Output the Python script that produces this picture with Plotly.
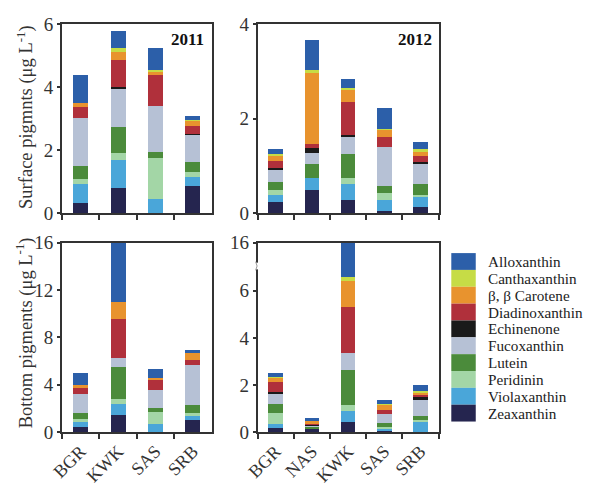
import plotly.graph_objects as go

pigments = ["Zeaxanthin", "Violaxanthin", "Peridinin", "Lutein", "Fucoxanthin",
            "Echinenone", "Diadinoxanthin", "β, β Carotene", "Canthaxanthin", "Alloxanthin"]
colors = ["#25254f", "#4aa6d9", "#a3d6a6", "#4b8b3b", "#b6c1d5",
          "#1a1a1a", "#b0303b", "#e8932e", "#c6dc46", "#2c5fa9"]

sites_2011 = ["BGR", "KWK", "SAS", "SRB"]
sites_2012 = ["BGR", "NAS", "KWK", "SAS", "SRB"]

# values per pigment (order = pigments), per site
surf_2011 = {
    "BGR": [0.30, 0.62, 0.16, 0.42, 1.53, 0.00, 0.33, 0.13, 0.02, 0.87],
    "KWK": [0.79, 0.90, 0.23, 0.81, 1.21, 0.06, 0.86, 0.25, 0.15, 0.54],
    "SAS": [0.00, 0.45, 1.29, 0.20, 1.47, 0.00, 0.97, 0.12, 0.06, 0.69],
    "SRB": [0.84, 0.29, 0.17, 0.31, 0.87, 0.04, 0.23, 0.17, 0.04, 0.12],
}
surf_2012 = {
    "BGR": [0.23, 0.15, 0.10, 0.17, 0.27, 0.03, 0.16, 0.09, 0.04, 0.12],
    "NAS": [0.49, 0.24, 0.00, 0.30, 0.25, 0.10, 0.09, 1.50, 0.07, 0.62],
    "KWK": [0.27, 0.34, 0.12, 0.53, 0.35, 0.05, 0.70, 0.25, 0.03, 0.20],
    "SAS": [0.05, 0.23, 0.15, 0.13, 0.83, 0.00, 0.23, 0.14, 0.02, 0.45],
    "SRB": [0.12, 0.21, 0.06, 0.22, 0.44, 0.04, 0.12, 0.09, 0.05, 0.16],
}
bot_2011 = {
    "BGR": [0.41, 0.45, 0.22, 0.51, 1.60, 0.00, 0.65, 0.16, 0.00, 0.97],
    "KWK": [1.46, 0.89, 0.41, 2.75, 0.76, 0.00, 3.30, 1.43, 0.00, 5.00],
    "SAS": [0.00, 0.65, 1.03, 0.35, 1.54, 0.00, 0.81, 0.21, 0.00, 0.71],
    "SRB": [1.00, 0.32, 0.27, 0.71, 3.40, 0.00, 0.41, 0.57, 0.00, 0.27],
}
bot_2012 = {
    "BGR": [0.19, 0.16, 0.46, 0.40, 0.39, 0.11, 0.41, 0.21, 0.03, 0.14],
    "NAS": [0.12, 0.00, 0.00, 0.12, 0.06, 0.05, 0.04, 0.07, 0.00, 0.14],
    "KWK": [0.42, 0.48, 0.23, 1.52, 0.70, 0.00, 1.96, 1.09, 0.18, 9.30],
    "SAS": [0.05, 0.11, 0.07, 0.14, 0.39, 0.00, 0.18, 0.24, 0.03, 0.15],
    "SRB": [0.00, 0.43, 0.09, 0.16, 0.68, 0.11, 0.10, 0.15, 0.04, 0.22],
}

W, H = 600, 489
FONT = "Liberation Serif"
AX = "#333333"

def px_x(v):
    return v / W

def px_y(v):
    return 1 - v / H

panels = [
    (surf_2011, sites_2011, "x", "y"),
    (surf_2012, sites_2012, "x2", "y2"),
    (bot_2011, sites_2011, "x3", "y3"),
    (bot_2012, sites_2012, "x4", "y4"),
]

fig = go.Figure()
for data, sites, xa, ya in panels:
    for i, pig in enumerate(pigments):
        fig.add_trace(go.Bar(
            x=sites, y=[data[s][i] for s in sites], name=pig,
            marker=dict(color=colors[i], line=dict(width=0)),
            xaxis=xa, yaxis=ya, showlegend=False,
        ))

xdom_l = [px_x(50), px_x(203)]
xdom_r = [px_x(250), px_x(435)]
ydom_t = [px_y(212), px_y(15)]
ydom_b = [px_y(441), px_y(243)]

common_x = dict(type="category", showline=True, linecolor=AX, linewidth=1.5, mirror=True,
                ticks="outside", tickson="boundaries", ticklen=5, tickcolor=AX, tickwidth=1.5,
                showgrid=False, zeroline=False,
                tickfont=dict(family=FONT, size=18, color=AX))
common_y = dict(showline=True, linecolor=AX, linewidth=1.5, mirror=True,
                ticks="outside", ticklen=3, tickcolor=AX, tickwidth=1.5,
                showgrid=False, zeroline=False,
                tickfont=dict(family=FONT, size=19, color=AX))

fig.update_layout(
    width=W, height=H, margin=dict(l=0, r=0, t=0, b=0),
    paper_bgcolor="white", plot_bgcolor="white",
    barmode="stack", bargap=0.6,
    xaxis=dict(common_x, domain=xdom_l, anchor="y", showticklabels=False),
    yaxis=dict(common_y, domain=ydom_t, anchor="x", range=[0, 6], tickvals=[0, 2, 4, 6]),
    xaxis2=dict(common_x, domain=xdom_r, anchor="y2", showticklabels=False),
    yaxis2=dict(common_y, domain=ydom_t, anchor="x2", range=[0, 4], tickvals=[0, 2, 4]),
    xaxis3=dict(common_x, domain=xdom_l, anchor="y3", tickangle=-45),
    yaxis3=dict(common_y, domain=ydom_b, anchor="x3", range=[0, 16], tickvals=[0, 4, 8, 12, 16]),
    xaxis4=dict(common_x, domain=xdom_r, anchor="y4", tickangle=-45),
    yaxis4=dict(common_y, domain=ydom_b, anchor="x4", range=[0, 8.05],
                tickvals=[0, 2, 4, 6, 8.05], ticktext=["0", "2", "4", "6", "16"]),
    font=dict(family=FONT, color=AX),
)

annotations = [
    dict(text="<b>2011</b>", x=px_x(197), y=px_y(31), xanchor="right", yanchor="middle",
         font=dict(family=FONT, size=17, color="#111")),
    dict(text="<b>2012</b>", x=px_x(430), y=px_y(31), xanchor="right", yanchor="middle",
         font=dict(family=FONT, size=17, color="#111")),
    dict(text="Surface pigmnts (μg L<sup>-1</sup>)", x=px_x(12), y=px_y(112), textangle=-90,
         xanchor="center", yanchor="middle", font=dict(family=FONT, size=18.5, color=AX)),
    dict(text="Bottom pigments (μg L<sup>-1</sup>)", x=px_x(12), y=px_y(337), textangle=-90,
         xanchor="center", yanchor="middle", font=dict(family=FONT, size=18.5, color=AX)),
]
shapes = []

# axis break mark on bottom-right panel
shapes.append(dict(type="rect", xref="paper", yref="paper",
                   x0=px_x(247), x1=px_x(253), y0=px_y(271), y1=px_y(264),
                   fillcolor="white", line=dict(width=0), layer="above"))
shapes.append(dict(type="path", xref="paper", yref="paper", layer="above",
                   path=f"M {px_x(248)},{px_y(263)} Q {px_x(251)},{px_y(267.5)} {px_x(248)},{px_y(272)}",
                   line=dict(color="#999", width=1)))

# legend (drawn manually, top to bottom)
leg_top = 254
row_h = 17.6
for k, i in enumerate(reversed(range(len(pigments)))):
    y0 = leg_top + k * row_h
    shapes.append(dict(type="rect", xref="paper", yref="paper",
                       x0=px_x(448), x1=px_x(473), y0=px_y(y0 + row_h), y1=px_y(y0),
                       fillcolor=colors[i], line=dict(width=0)))
    annotations.append(dict(text=pigments[i], x=px_x(484), y=px_y(y0 + row_h / 2),
                            xanchor="left", yanchor="middle", showarrow=False, borderpad=0,
                            font=dict(family=FONT, size=15.2, color="#222")))

for a in annotations:
    a.setdefault("showarrow", False)
    a.setdefault("xref", "paper")
    a.setdefault("yref", "paper")

fig.update_layout(annotations=annotations, shapes=shapes)
fig.write_html("out.html")
